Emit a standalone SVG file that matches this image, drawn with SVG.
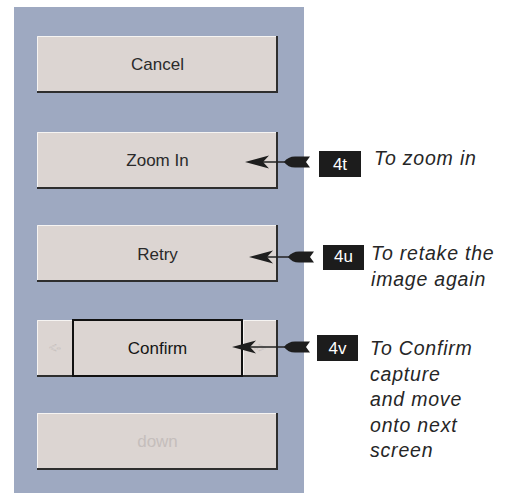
<svg xmlns="http://www.w3.org/2000/svg" width="510" height="493" viewBox="0 0 510 493">
<defs>
<style>
.btn{fill:#dcd5d2}
.hi{fill:none;stroke:#f6f4f2;stroke-width:1}
.sh{fill:none;stroke:#2e2e2e;stroke-width:2}
.bt{font-family:"Liberation Sans",Arial,sans-serif;font-size:17px;fill:#2a2a2a;text-anchor:middle}
.small{font-family:"Liberation Sans",Arial,sans-serif;font-size:13px;fill:#f4f2f0;stroke:#bdb5b3;stroke-width:0.5;text-anchor:middle}
.tag{fill:#1c1c1c}
.tagt{font-family:"Liberation Sans",Arial,sans-serif;font-size:17px;fill:#ffffff;text-anchor:middle}
.desc{font-family:"Liberation Sans",Arial,sans-serif;font-size:19.5px;font-style:italic;fill:#262626;letter-spacing:0.8px}
.ln{stroke:#222;stroke-width:1.5;fill:none}
.ah{fill:#1e1e1e}
</style>
</defs>
<rect x="0" y="0" width="510" height="493" fill="#ffffff"/>
<rect id="panel" x="14" y="7" width="290" height="486" fill="#9ea9c1"/>

<g id="btn-cancel">
<rect class="btn" x="37" y="36" width="241" height="57"/>
<polyline class="hi" points="37.5,92 37.5,36.5 277,36.5"/>
<polyline class="sh" points="37,92 277,92 277,36"/>
<text class="bt" x="157.5" y="70">Cancel</text>
</g>

<g id="btn-zoomin">
<rect class="btn" x="37" y="132" width="241" height="57"/>
<polyline class="hi" points="37.5,188 37.5,132.5 277,132.5"/>
<polyline class="sh" points="37,188 277,188 277,132"/>
<text class="bt" x="157.5" y="166">Zoom In</text>
</g>

<g id="btn-retry">
<rect class="btn" x="37" y="225" width="241" height="57"/>
<polyline class="hi" points="37.5,281 37.5,225.5 277,225.5"/>
<polyline class="sh" points="37,281 277,281 277,225"/>
<text class="bt" x="157.5" y="260">Retry</text>
</g>

<g id="btn-left">
<rect class="btn" x="37" y="320" width="36" height="57"/>
<polyline class="hi" points="37.5,376 37.5,320.5 72,320.5"/>
<polyline class="sh" points="37,376 72,376"/>
<text class="small" x="55" y="352">&lt;-</text>
</g>

<g id="btn-confirm">
<rect class="btn" x="73" y="320" width="169" height="56" stroke="#111" stroke-width="2"/>
<text class="bt" x="157.5" y="354" style="fill:#151515">Confirm</text>
</g>

<g id="btn-right">
<rect class="btn" x="243" y="320" width="35" height="57"/>
<polyline class="hi" points="243.5,376 243.5,320.5 277,320.5"/>
<polyline class="sh" points="243,376 277,376 277,320"/>
<text class="small" x="260" y="352">-&gt;</text>
</g>

<g id="btn-down">
<rect class="btn" x="37" y="413" width="241" height="57"/>
<polyline class="hi" points="37.5,469 37.5,413.5 277,413.5"/>
<polyline class="sh" points="37,469 277,469 277,413"/>
<text class="bt" x="157.5" y="447" style="fill:#c5bebc">down</text>
</g>

<g id="connectors">
<line class="ln" x1="250" y1="162" x2="292" y2="162"/>
<path class="ah" d="M245,162 L269,155.5 L263,162 L269,168.5 Z"/>
<path class="ah" d="M284,162 Q288,156.5 295,156.5 L310,156.5 L306,162 L310,167.5 L295,167.5 Q288,167.5 284,162 Z"/>

<line class="ln" x1="254" y1="257" x2="295" y2="257"/>
<path class="ah" d="M249,257 L273,250.5 L267,257 L273,263.5 Z"/>
<path class="ah" d="M288,257 Q292,251.5 299,251.5 L314,251.5 L310,257 L314,262.5 L299,262.5 Q292,262.5 288,257 Z"/>

<line class="ln" x1="237" y1="347" x2="292" y2="347"/>
<path class="ah" d="M232,347 L256,340.5 L250,347 L256,353.5 Z"/>
<path class="ah" d="M284,347 Q288,341.5 295,341.5 L310,341.5 L306,347 L310,352.5 L295,352.5 Q288,352.5 284,347 Z"/>
</g>

<g id="label-4t">
<rect class="tag" x="319" y="151" width="42" height="26"/>
<text class="tagt" x="340" y="170">4t</text>
<text class="desc" x="374" y="165">To zoom in</text>
</g>

<g id="label-4u">
<rect class="tag" x="323" y="245" width="41" height="25"/>
<text class="tagt" x="343.5" y="262">4u</text>
<text class="desc" x="371" y="260">To retake the</text>
<text class="desc" x="371" y="286">image again</text>
</g>

<g id="label-4v">
<rect class="tag" x="317" y="335" width="41" height="26"/>
<text class="tagt" x="337.5" y="354">4v</text>
<text class="desc" x="370" y="355">To Confirm</text>
<text class="desc" x="370" y="380.5">capture</text>
<text class="desc" x="370" y="406">and move</text>
<text class="desc" x="370" y="431.5">onto next</text>
<text class="desc" x="370" y="457">screen</text>
</g>
</svg>
